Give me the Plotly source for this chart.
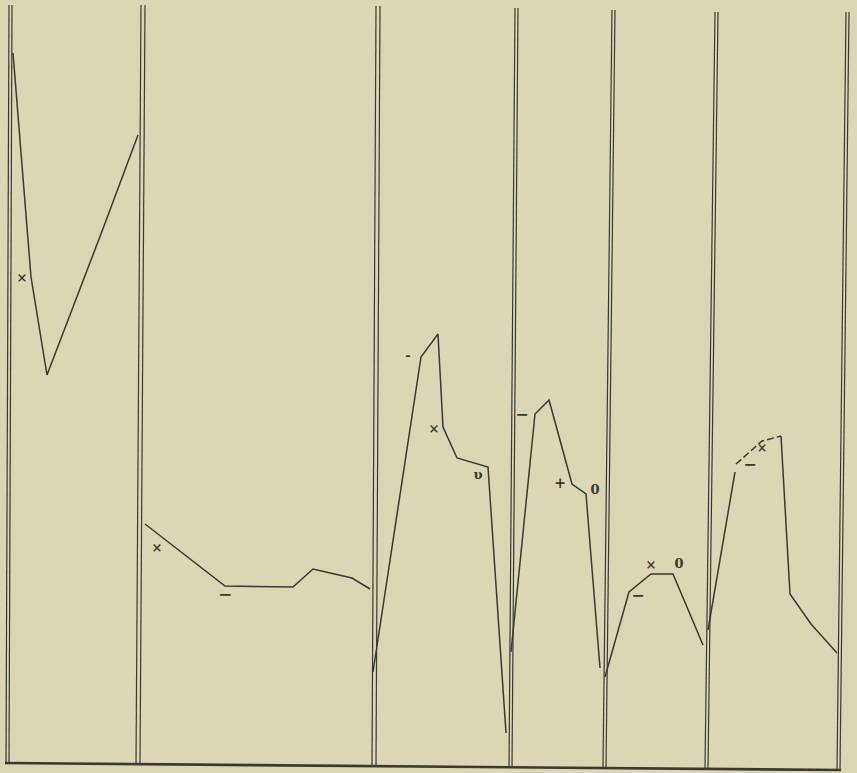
import plotly.graph_objects as go

# Curves of the six panels (x, y; y grows downward)
panel1_x = [13, 31, 47, 104, 138]
panel1_y = [53, 277, 375, 226, 135]

panel2_x = [145, 225, 293, 313, 352, 370]
panel2_y = [524, 586, 587, 569, 578, 589]

panel3_x = [373, 421, 438, 443, 457, 488, 506]
panel3_y = [672, 357, 334, 427, 458, 467, 733]

panel4_x = [511, 535, 549, 572, 586, 600]
panel4_y = [652, 414, 400, 484, 494, 668]

panel5_x = [605, 629, 651, 673, 703]
panel5_y = [677, 592, 574, 574, 645]

panel6_rise_x = [708, 735]
panel6_rise_y = [630, 472]
panel6_dash_x = [736, 762, 781]
panel6_dash_y = [464, 441, 436]
panel6_fall_x = [781, 790, 811, 837]
panel6_fall_y = [436, 594, 624, 653]

# Double divider lines: x at top and at bottom, top y
divider_top_x = [9, 141, 376, 515, 612, 715, 846]
divider_bottom_x = [6, 136, 372, 509, 603, 705, 837]
divider_top_y = [5, 5, 6, 8, 10, 12, 12]
divider_gap = [3, 4, 4, 3, 3, 3, 3]

bottom_x = [5, 841]
bottom_y = [763, 770]

# Marks written next to the curves
mark_text = ["×", "×", "−", "-", "×", "υ", "−", "+", "0", "−", "×", "0", "−", "×"]
mark_x = [22, 157, 225, 408, 434, 478, 522, 560, 595, 638, 651, 679, 750, 762]
mark_y = [279, 549, 596, 357, 430, 476, 416, 484, 491, 597, 566, 565, 466, 449]
mark_size = [13, 13, 17, 13, 13, 13, 16, 14, 13, 16, 13, 13, 16, 12]

ink = "#3a3933"
paper = "#dbd6b5"

fig = go.Figure()

# dividers
for tx, bx, ty, g in zip(divider_top_x, divider_bottom_x, divider_top_y, divider_gap):
    for off in (0, g):
        fig.add_trace(go.Scatter(
            x=[tx + off, bx + off], y=[ty, bottom_y[0] + (bx - bottom_x[0]) * 7 / 836],
            mode="lines", line=dict(color=ink, width=1.2), hoverinfo="skip"
        ))

fig.add_trace(go.Scatter(x=bottom_x, y=bottom_y, mode="lines",
                         line=dict(color=ink, width=2.6), hoverinfo="skip"))

for xs, ys in [(panel1_x, panel1_y), (panel2_x, panel2_y), (panel3_x, panel3_y),
               (panel4_x, panel4_y), (panel5_x, panel5_y),
               (panel6_rise_x, panel6_rise_y), (panel6_fall_x, panel6_fall_y)]:
    fig.add_trace(go.Scatter(x=xs, y=ys, mode="lines",
                             line=dict(color=ink, width=1.5), hoverinfo="skip"))

fig.add_trace(go.Scatter(x=panel6_dash_x, y=panel6_dash_y, mode="lines",
                         line=dict(color=ink, width=1.5, dash="7px,3px"),
                         hoverinfo="skip"))

fig.add_trace(go.Scatter(
    x=mark_x, y=mark_y, mode="text", text=[f"<b>{t}</b>" for t in mark_text],
    textfont=dict(family="DejaVu Serif", size=mark_size, color=ink),
    hoverinfo="skip"
))

fig.update_layout(
    width=857, height=773,
    margin=dict(l=0, r=0, t=0, b=0),
    paper_bgcolor=paper, plot_bgcolor=paper,
    showlegend=False,
    xaxis=dict(range=[0, 857], visible=False, fixedrange=True),
    yaxis=dict(range=[773, 0], visible=False, fixedrange=True),
)

fig.write_html(
    "out.html",
    config={"displayModeBar": False},
    post_script="document.body.style.margin='0';document.body.style.background='%s';" % paper,
)
